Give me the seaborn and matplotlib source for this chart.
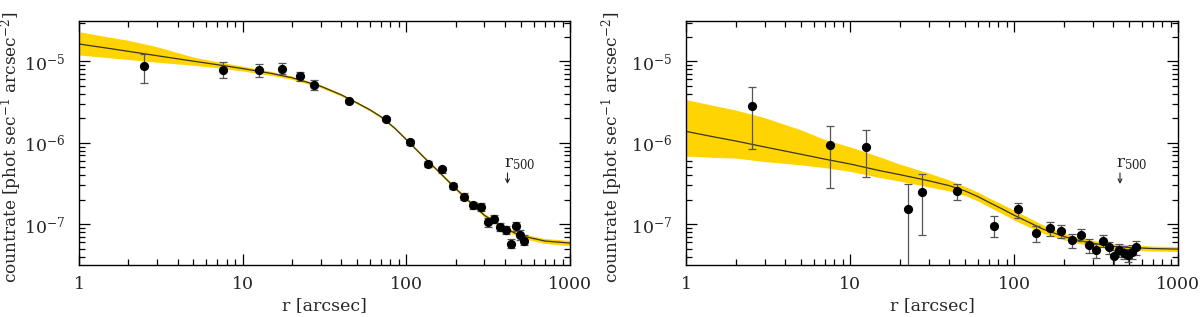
import numpy as np
import pandas as pd
import matplotlib
matplotlib.use("Agg")
import matplotlib.pyplot as plt
import seaborn as sns
from matplotlib.ticker import LogLocator, LogFormatterMathtext, NullFormatter, FixedLocator, FixedFormatter

# ---------------- data ----------------
# left panel: measured surface-brightness profile
left_r = [2.49, 7.53, 12.5, 17.5, 22.4, 27.4, 44.8, 75, 104.6, 135, 165, 193, 224, 254,
          285, 314, 345, 374, 405, 434, 466, 495, 526]
left_c = [8.85e-6, 7.9e-6, 7.75e-6, 8.1e-6, 6.55e-6, 5.18e-6, 3.26e-6, 1.96e-6, 1.01e-6,
          5.53e-7, 4.71e-7, 2.94e-7, 2.18e-7, 1.72e-7, 1.63e-7, 1.06e-7, 1.17e-7, 9.3e-8,
          8.56e-8, 5.8e-8, 9.4e-8, 7.36e-8, 6.3e-8]
left_hi = [1.23e-5, 9.8e-6, 9.3e-6, 9.6e-6, 7.5e-6, 5.96e-6, 3.45e-6, 2.05e-6, 1.07e-6,
           5.95e-7, 5.1e-7, 3.2e-7, 2.4e-7, 1.9e-7, 1.8e-7, 1.2e-7, 1.31e-7, 1.04e-7,
           9.6e-8, 6.6e-8, 1.06e-7, 8.4e-8, 7.3e-8]
left_lo = [5.5e-6, 6.25e-6, 6.5e-6, 7.06e-6, 5.7e-6, 4.4e-6, 3.08e-6, 1.87e-6, 0.95e-6,
           5.1e-7, 4.3e-7, 2.7e-7, 1.97e-7, 1.56e-7, 1.47e-7, 9.3e-8, 1.04e-7, 8.3e-8,
           7.6e-8, 5.1e-8, 8.3e-8, 6.5e-8, 5.5e-8]

# right panel: measured profile
right_r = [2.5, 7.49, 12.5, 22.6, 27.5, 44.9, 74.9, 105, 135, 164, 194, 225, 255, 285,
           315, 346, 376, 405, 435, 466, 493, 524, 554]
right_c = [2.86e-6, 9.5e-7, 8.95e-7, 1.56e-7, 2.5e-7, 2.56e-7, 9.66e-8, 1.54e-7, 7.87e-8,
           8.9e-8, 8.25e-8, 6.4e-8, 7.36e-8, 5.5e-8, 4.9e-8, 6.27e-8, 5.2e-8, 4.1e-8,
           4.9e-8, 4.5e-8, 4.2e-8, 4.6e-8, 5.25e-8]
right_hi = [4.8e-6, 1.62e-6, 1.42e-6, 3.1e-7, 4.2e-7, 3.12e-7, 1.26e-7, 1.84e-7, 9.4e-8,
            1.06e-7, 9.86e-8, 7.5e-8, 8.7e-8, 6.6e-8, 5.8e-8, 7.3e-8, 6.1e-8, 4.9e-8,
            5.8e-8, 5.4e-8, 5.0e-8, 5.5e-8, 6.27e-8]
right_lo = [8.4e-7, 2.79e-7, 3.8e-7, 1.0e-8, 7.4e-8, 1.98e-7, 6.9e-8, 1.19e-7, 6.1e-8,
            7.2e-8, 6.8e-8, 5.1e-8, 6.27e-8, 4.4e-8, 3.9e-8, 5.3e-8, 4.35e-8, 2.5e-8,
            4.0e-8, 3.7e-8, 3.4e-8, 3.8e-8, 4.2e-8]

# model curves (log10 countrate) and their uncertainty bands (dex above / below)
model_r = [1, 1.5, 2, 3, 5, 7, 10, 15, 20, 30, 40, 50, 60, 70, 85, 100, 130, 150, 200,
           250, 300, 400, 500, 700, 1000]
left_model = [-4.786, -4.838, -4.876, -4.93, -4.997, -5.04, -5.088, -5.148, -5.2, -5.305,
              -5.41, -5.51, -5.595, -5.68, -5.82, -5.96, -6.19, -6.31, -6.56, -6.745,
              -6.89, -7.05, -7.14, -7.205, -7.231]
left_band_up = [0.15, 0.14, 0.135, 0.11, 0.05, 0.037, 0.03, 0.025, 0.02, 0.018, 0.016,
                0.015, 0.015, 0.015, 0.015, 0.015, 0.016, 0.017, 0.02, 0.021, 0.022,
                0.025, 0.028, 0.03, 0.032]
left_band_dn = [0.135, 0.115, 0.1, 0.08, 0.05, 0.037, 0.03, 0.025, 0.02, 0.018, 0.016,
                0.015, 0.015, 0.015, 0.015, 0.015, 0.016, 0.017, 0.02, 0.021, 0.022,
                0.025, 0.028, 0.03, 0.032]
right_model = [-5.86, -5.93, -5.977, -6.05, -6.14, -6.20, -6.26, -6.34, -6.39, -6.465,
               -6.525, -6.59, -6.66, -6.73, -6.815, -6.89, -7.0, -7.06, -7.15, -7.2,
               -7.232, -7.272, -7.285, -7.298, -7.305]
right_band_up = [0.39, 0.385, 0.38, 0.36, 0.3, 0.24, 0.21, 0.17, 0.13, 0.095, 0.07, 0.055,
                 0.055, 0.055, 0.058, 0.06, 0.055, 0.05, 0.04, 0.037, 0.035, 0.032,
                 0.03, 0.03, 0.03]
right_band_dn = [0.30, 0.25, 0.21, 0.18, 0.13, 0.105, 0.09, 0.085, 0.08, 0.075, 0.065,
                 0.055, 0.055, 0.055, 0.058, 0.06, 0.055, 0.05, 0.04, 0.037, 0.035,
                 0.032, 0.03, 0.03, 0.03]

r500_left = 415
r500_right = 441

xlabel = "r [arcsec]"
ylabel = "countrate [phot sec$^{-1}$ arcsec$^{-2}$]"

# ---------------- style ----------------
sns.set_theme(style="ticks")
plt.rcParams["font.family"] = ["DejaVu Serif"]
plt.rcParams["mathtext.fontset"] = "dejavuserif"

W, H = 1200, 317
fig = plt.figure(figsize=(W / 100, H / 100), dpi=100)
ax1 = fig.add_axes([79 / W, 1 - 265 / H, 491 / W, 244.3 / H])
ax2 = fig.add_axes([686.3 / W, 1 - 265 / H, 492 / W, 244.3 / H])

GOLD = "#FFD400"
LINE = "#3b3424"


def draw(ax, pr, pc, phi, plo, model, up, dn, r500, ylab_x):
    mr = np.array(model_r, float)
    m = np.array(model, float)
    ax.fill_between(mr, 10 ** (m - np.array(dn)), 10 ** (m + np.array(up)),
                    color=GOLD, lw=0, zorder=1)
    dfm = pd.DataFrame({"r": mr, "c": 10 ** m})
    sns.lineplot(data=dfm, x="r", y="c", ax=ax, color=LINE, lw=0.9, zorder=2)
    pc = np.array(pc)
    yerr = np.vstack([pc - np.array(plo), np.array(phi) - pc])
    ax.errorbar(pr, pc, yerr=yerr, fmt="none", ecolor="#555555", elinewidth=0.9,
                capsize=3.2, capthick=0.9, zorder=3)
    dfp = pd.DataFrame({"r": pr, "c": pc})
    sns.scatterplot(data=dfp, x="r", y="c", ax=ax, color="black", s=44,
                    edgecolor="black", linewidth=0, zorder=4)
    ax.set_xscale("log")
    ax.set_yscale("log")
    ax.set_xlim(1, 1000)
    ax.set_ylim(10 ** -7.5, 10 ** -4.5)
    ax.xaxis.set_major_locator(FixedLocator([1, 10, 100, 1000]))
    ax.xaxis.set_major_formatter(FixedFormatter(["1", "10", "100", "1000"]))
    ax.xaxis.set_minor_locator(LogLocator(base=10, subs=np.arange(2, 10), numticks=20))
    ax.xaxis.set_minor_formatter(NullFormatter())
    ax.yaxis.set_major_locator(FixedLocator([1e-7, 1e-6, 1e-5]))
    ax.yaxis.set_major_formatter(LogFormatterMathtext())
    ax.yaxis.set_minor_locator(LogLocator(base=10, subs=np.arange(2, 10), numticks=20))
    ax.yaxis.set_minor_formatter(NullFormatter())
    ax.tick_params(which="both", direction="in", top=True, right=True, color="black",
                   width=0.9)
    ax.tick_params(which="major", length=8, labelsize=12.5, pad=8)
    ax.tick_params(axis="y", which="major", pad=10)
    ax.tick_params(which="minor", length=4)
    for s in ax.spines.values():
        s.set_color("black")
        s.set_linewidth(1.0)
    ax.set_xlabel(xlabel, fontsize=12.5)
    ax.set_ylabel(ylabel, fontsize=12.2)
    ax.xaxis.set_label_coords(0.5, -0.13)
    ax.yaxis.set_label_coords(ylab_x, 0.48)
    if ax.get_legend() is not None:
        ax.get_legend().remove()
    # r500 marker
    ax.text(r500 * 0.95, 10 ** -6.306, r"r$_{500}$", fontsize=12, ha="left",
            va="baseline", color="#222222")
    ax.annotate("", xy=(r500, 10 ** -6.505), xytext=(r500, 10 ** -6.37),
                arrowprops=dict(arrowstyle="->", lw=0.8, color="#222222",
                                shrinkA=0, shrinkB=0, mutation_scale=7))


draw(ax1, left_r, left_c, left_hi, left_lo, left_model, left_band_up, left_band_dn,
     r500_left, -0.112)
draw(ax2, right_r, right_c, right_hi, right_lo, right_model, right_band_up, right_band_dn,
     r500_right, -0.125)

fig.savefig("out.png", dpi=100)
